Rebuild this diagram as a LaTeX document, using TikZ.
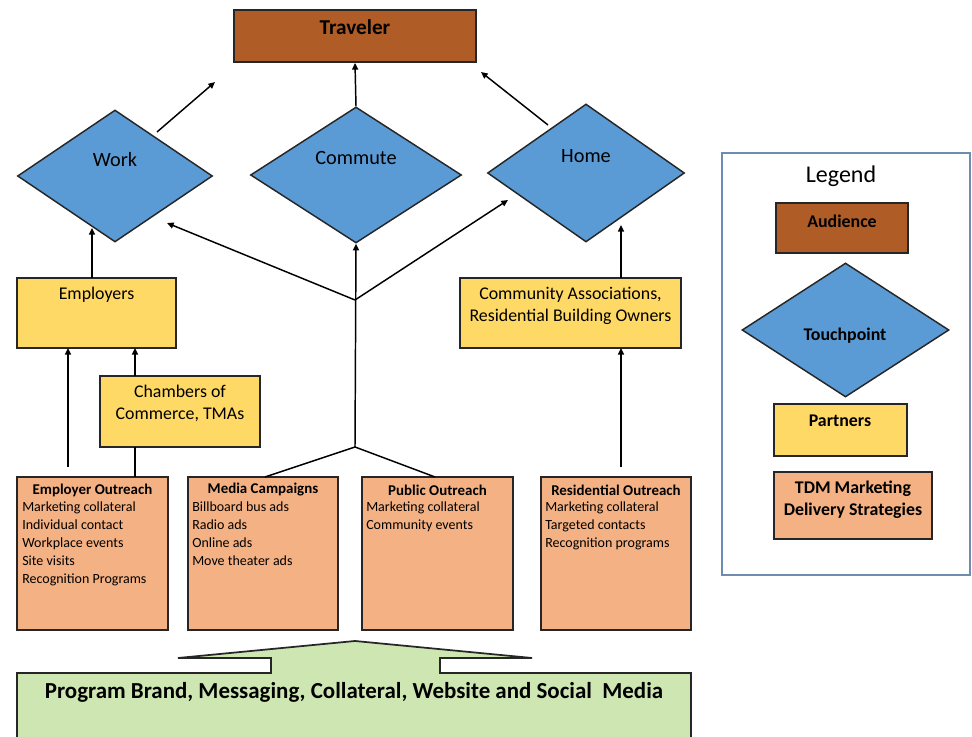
\documentclass[tikz,border=0pt]{standalone}
\usepackage{fontspec}
\setmainfont{Carlito}
\usetikzlibrary{shapes.geometric,arrows.meta,calc}
\definecolor{brownc}{RGB}{176,92,38}
\definecolor{bluec}{RGB}{91,155,213}
\definecolor{yellowc}{RGB}{255,217,102}
\definecolor{peachc}{RGB}{244,177,131}
\definecolor{greenc}{RGB}{206,231,178}
\definecolor{legc}{RGB}{110,140,175}
\tikzset{
  sz/.style 2 args={minimum width=#1*0.75pt, minimum height=#2*0.75pt},
  rbox/.style={draw=black!85, line width=1.4pt, inner sep=0pt, rectangle},
  dbox/.style={draw=black!85, line width=1.1pt, inner sep=0pt, diamond, fill=bluec},
  arr/.style={line width=1.1pt, -{Triangle[length=5pt,width=4.5pt]}},
  ln/.style={line width=1.1pt},
  dtxt/.style={font=\fontsize{15.2}{18}\selectfont, inner sep=0pt},
  ptxt/.style={font=\fontsize{13.4}{16.5}\selectfont, inner sep=0pt, align=center},
  htxt/.style={font=\bfseries\fontsize{11.2}{13.5}\selectfont, inner sep=0pt},
  itxt/.style={font=\fontsize{10.5}{13.5}\selectfont, inner sep=0pt, align=left, anchor=north west},
  ltxt/.style={font=\bfseries\fontsize{13.4}{16.5}\selectfont, inner sep=0pt, align=center}
}
\begin{document}
\begin{tikzpicture}[x=0.75pt,y=-0.75pt]
\clip (0,0) rectangle (972,737);
\fill[white] (0,0) rectangle (972,737);

% Audience
\node[rbox, fill=brownc, sz={242}{52}] (trav) at (355,36) {};
\node[ltxt, font=\bfseries\fontsize{15.9}{18}\selectfont] (travt) at (355,27) {Traveler};

% Touchpoints
\node[dbox, sz={195}{132}] (work) at (115,176) {};
\node[dtxt] (workt) at (115,160) {Work};
\node[dbox, sz={211}{136}] (comm) at (356,175) {};
\node[dtxt] (commt) at (356,158) {Commute};
\node[dbox, sz={197}{138}] (home) at (586,173) {};
\node[dtxt] (homet) at (586,156) {Home};

% Partners
\node[rbox, fill=yellowc, sz={159}{70}] (emp) at (96.5,313) {};
\node[ptxt] (empt) at (96.5,295) {Employers};
\node[rbox, fill=yellowc, sz={160}{71}] (cham) at (180,411.5) {};
\node[ptxt] (chamt) at (180,403) {Chambers of\\Commerce, TMAs};
\node[rbox, fill=yellowc, sz={221}{70}] (cmty) at (570.5,313) {};
\node[ptxt] (cmtyt) at (570.5,306) {Community Associations,\\Residential Building Owners};

% Strategies
\node[rbox, fill=peachc, sz={151}{153}] (eo) at (92.5,553.5) {};
\node[htxt] (eoh) at (92.5,490) {Employer Outreach};
\node[itxt] (eoi) at (22,502) {Marketing collateral\\Individual contact\\Workplace events\\Site visits\\Recognition Programs};
\node[rbox, fill=peachc, sz={150}{153}] (mc) at (263,553.5) {};
\node[htxt] (mch) at (263,490) {Media Campaigns};
\node[itxt] (mci) at (192,502) {Billboard bus ads\\Radio ads\\Online ads\\Move theater ads};
\node[rbox, fill=peachc, sz={151}{153}] (po) at (437.5,553.5) {};
\node[htxt] (poh) at (437.5,490) {Public Outreach};
\node[itxt] (poi) at (366,502) {Marketing collateral\\Community events};
\node[rbox, fill=peachc, sz={150}{153}] (ro) at (616,553.5) {};
\node[htxt] (roh) at (616,490) {Residential Outreach};
\node[itxt] (roi) at (545,502) {Marketing collateral\\Targeted contacts\\Recognition programs};

% Foundation arrow
\draw[draw=black!85, line width=1.3pt, fill=greenc]
  (17,760) -- (17,673) -- (271,673) -- (271,658) -- (178,658) -- (355,641)
  -- (532,658) -- (440,658) -- (440,673) -- (691,673) -- (691,760);
\node[font=\bfseries\fontsize{17.2}{20}\selectfont, inner sep=0pt] (found) at (354,692)
  {Program Brand, Messaging, Collateral, Website and Social\ \ Media};

% Connector coordinates
\coordinate (wkout) at (157,132);
\coordinate (trin1) at (215,82);
\coordinate (hmout) at (548,125);
\coordinate (trin3) at (481,72);
\coordinate (wkin) at (92,228);
\coordinate (empout) at (92,278);
\coordinate (hmin) at (621,225);
\coordinate (cmout) at (621,278);
\coordinate (eoout1) at (68,467);
\coordinate (empin1) at (68,348);
\coordinate (eoout2) at (135,477);
\coordinate (chin) at (135,447);
\coordinate (chout) at (135,376);
\coordinate (empin2) at (135,348);
\coordinate (roout) at (621,467);
\coordinate (cmin) at (621,348);
\coordinate (mcout) at (265,477);
\coordinate (poout) at (435,477);
\coordinate (j1) at (355,447);
\coordinate (j2) at (355,300);
\coordinate (wkin2) at (167,223);
\coordinate (hmin2) at (508,200);

% Connectors
\draw[arr] (wkout) -- (trin1);
\draw[arr] (comm.north) -- (trav.south);
\draw[arr] (hmout) -- (trin3);
\draw[arr] (empout) -- (wkin);
\draw[arr] (cmout) -- (hmin);
\draw[arr] (eoout1) -- (empin1);
\draw[ln] (eoout2) -- (chin);
\draw[arr] (chout) -- (empin2);
\draw[arr] (roout) -- (cmin);
\draw[ln] (mcout) -- (j1) -- (poout);
\draw[arr] (j1) -- (comm.south);
\draw[arr] (j2) -- (wkin2);
\draw[arr] (j2) -- (hmin2);

% Legend
\node[draw=legc, line width=1.8pt, rectangle, inner sep=0pt, sz={248}{422}] (leg) at (846,364) {};
\node[font=\fontsize{18}{20}\selectfont, inner sep=0pt] (legt) at (841,176) {Legend};
\node[rbox, fill=brownc, sz={132}{50}] (laud) at (842,228) {};
\node[ltxt] (laudt) at (842,221) {Audience};
\node[dbox, sz={207}{134}] (ltp) at (845.5,330) {};
\node[ltxt] (ltpt) at (845,336) {Touchpoint};
\node[rbox, fill=yellowc, sz={133}{52}] (lpar) at (840.5,430) {};
\node[ltxt] (lpart) at (840,421) {Partners};
\node[rbox, fill=peachc, sz={158}{67}] (ltdm) at (853,505.5) {};
\node[ltxt] (ltdmt) at (853,500) {TDM Marketing\\Delivery Strategies};
\end{tikzpicture}
\end{document}
